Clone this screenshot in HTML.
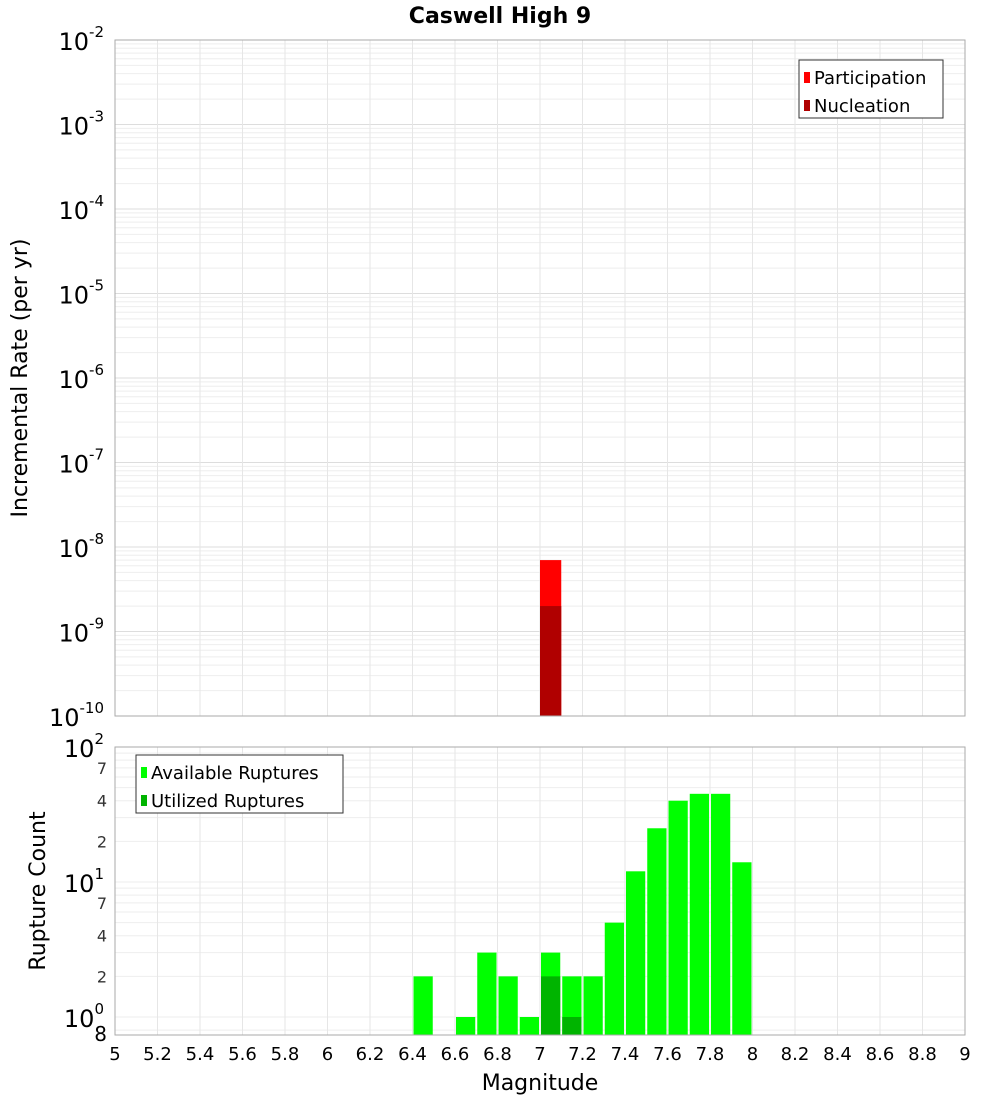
<!DOCTYPE html>
<html><head><meta charset="utf-8"><style>
body{margin:0;background:#fff;font-family:"Liberation Sans","DejaVu Sans",sans-serif}
svg text{font-family:"DejaVu Sans","Liberation Sans",sans-serif}
</style></head><body>
<svg id="c" width="1000" height="1100" xmlns="http://www.w3.org/2000/svg"></svg>
<script>
const magBins=[6.45,6.65,6.75,6.85,6.95,7.05,7.15,7.25,7.35,7.45,7.55,7.65,7.75,7.85,7.95];
const availCounts=[2,1,3,2,1,3,2,2,5,12,25,40,45,45,14];
const utilBins=[7.05,7.15];
const utilCounts=[2,1];
const rateBins=[7.05];
const partRates=[7e-9];
const nuclRates=[2e-9];
const xTicks=[5,5.2,5.4,5.6,5.8,6,6.2,6.4,6.6,6.8,7,7.2,7.4,7.6,7.8,8,8.2,8.4,8.6,8.8,9];
const topExps=[-10,-9,-8,-7,-6,-5,-4,-3,-2];

const NS="http://www.w3.org/2000/svg",svg=document.getElementById('c');
function el(t,a,p){const e=document.createElementNS(NS,t);for(const k in a)e.setAttribute(k,a[k]);(p||svg).appendChild(e);return e;}
const L=115,R=965;
const X=m=>L+(m-5)/4*(R-L);
const T0=40,T1=716;
const YT=v=>T0+(-2-Math.log10(v))/8*(T1-T0);
const B0=747,B1=1035;
const YB=v=>B0+(2-Math.log10(v))*(135);

// title
let t=el('text',{x:500,y:23,'text-anchor':'middle','font-size':22,'font-weight':'bold'});t.textContent='Caswell High 9';


// top grid
const tg=el('g',{});
for(let e=-10;e<-2;e++)for(let k=1;k<10;k++){const y=YT(k*Math.pow(10,e));el('line',{x1:L,x2:R,y1:y,y2:y,stroke:k==1?'#ddd':'#eee','stroke-width':1},tg);}
xTicks.forEach(m=>el('line',{x1:X(m),x2:X(m),y1:T0,y2:T1,stroke:'#e6e6e6'},tg));
const bg=el('g',{});
[1,10].forEach(b=>{for(let k=1;k<10;k++){const y=YB(k*b);el('line',{x1:L,x2:R,y1:y,y2:y,stroke:'#eee'},bg);}});
el('line',{x1:L,x2:R,y1:YB(0.8),y2:YB(0.8),stroke:'#eee'},bg);
xTicks.forEach(m=>el('line',{x1:X(m),x2:X(m),y1:B0,y2:B1,stroke:'#e6e6e6'},bg));

// top bars
rateBins.forEach((m,i)=>{
 let r=el('rect',{x:X(m-0.05),y:YT(partRates[i]),width:X(m+0.05)-X(m-0.05),height:T1-YT(partRates[i]),fill:'#ff0000'});
 
 r=el('rect',{x:X(m-0.05),y:YT(nuclRates[i]),width:X(m+0.05)-X(m-0.05),height:T1-YT(nuclRates[i]),fill:'#b00000'});
 
});
// bottom bars
magBins.forEach((m,i)=>{
 const y=Math.max(B0,YB(availCounts[i]));
 const r=el('rect',{x:X(m-0.05)+1,y:y,width:X(m+0.05)-X(m-0.05)-2,height:B1-y,fill:'#00ff00'});
 
});
utilBins.forEach((m,i)=>{
 const y=YB(utilCounts[i]);
 const r=el('rect',{x:X(m-0.05)+1,y:y,width:X(m+0.05)-X(m-0.05)-2,height:B1-y,fill:'#00b400'});
 
});

// frames
let f=el('rect',{x:L,y:T0,width:R-L,height:T1-T0,fill:'none',stroke:'#aaa'});
f=el('rect',{x:L,y:B0,width:R-L,height:B1-B0,fill:'none',stroke:'#aaa'});

// top y labels
topExps.forEach(e=>{
 const y=YT(Math.pow(10,e));
 const g=el('text',{x:104,y:y+10,'text-anchor':'end','font-size':24});
 
 const a=el('tspan',{},g);a.textContent='10';
 const s=el('tspan',{'font-size':15,dy:-13},g);s.textContent=String(e);
});
// bottom y labels
[[100,'2'],[10,'1'],[1,'0']].forEach(([v,e])=>{
 const y=YB(v);
 const g=el('text',{x:104,y:y+10,'text-anchor':'end','font-size':24});
 
 const a=el('tspan',{},g);a.textContent='10';
 const s=el('tspan',{'font-size':15,dy:-13},g);s.textContent=e;
});
[[70,'7'],[40,'4'],[20,'2'],[7,'7'],[4,'4'],[2,'2']].forEach(([v,s])=>{
 const g=el('text',{x:107,y:YB(v)+6,'text-anchor':'end','font-size':16,fill:'#333'});g.textContent=s;
 
});
let g8=el('text',{x:107,y:1041,'text-anchor':'end','font-size':20});g8.textContent='8';


// x labels
xTicks.forEach(m=>{
 const g=el('text',{x:X(m),y:1060,'text-anchor':'middle','font-size':18});g.textContent=String(m);
 
});
let xt=el('text',{x:540,y:1090,'text-anchor':'middle','font-size':22});xt.textContent='Magnitude';

let yt=el('text',{x:0,y:0,'text-anchor':'middle','font-size':22,transform:'translate(27,378) rotate(-90)'});yt.textContent='Incremental Rate (per yr)';

yt=el('text',{x:0,y:0,'text-anchor':'middle','font-size':22,transform:'translate(45,891) rotate(-90)'});yt.textContent='Rupture Count';


// legends
function legend(x,y,w,items,name){
 const g=el('g',{});
 el('rect',{x:x,y:y,width:w,height:58,fill:'#fff',stroke:'#333'},g);
 items.forEach(([c,s],i)=>{
  el('rect',{x:x+5,y:y+12+i*28,width:6,height:11,fill:c},g);
  const tx=el('text',{x:x+15,y:y+24+i*28,'font-size':18},g);tx.textContent=s;
 });
}
legend(799,60,144,[['#ff0000','Participation'],['#b00000','Nucleation']],'top-legend');
legend(136,755,207,[['#00ff00','Available Ruptures'],['#00b400','Utilized Ruptures']],'bottom-legend');
</script>
</body></html>
